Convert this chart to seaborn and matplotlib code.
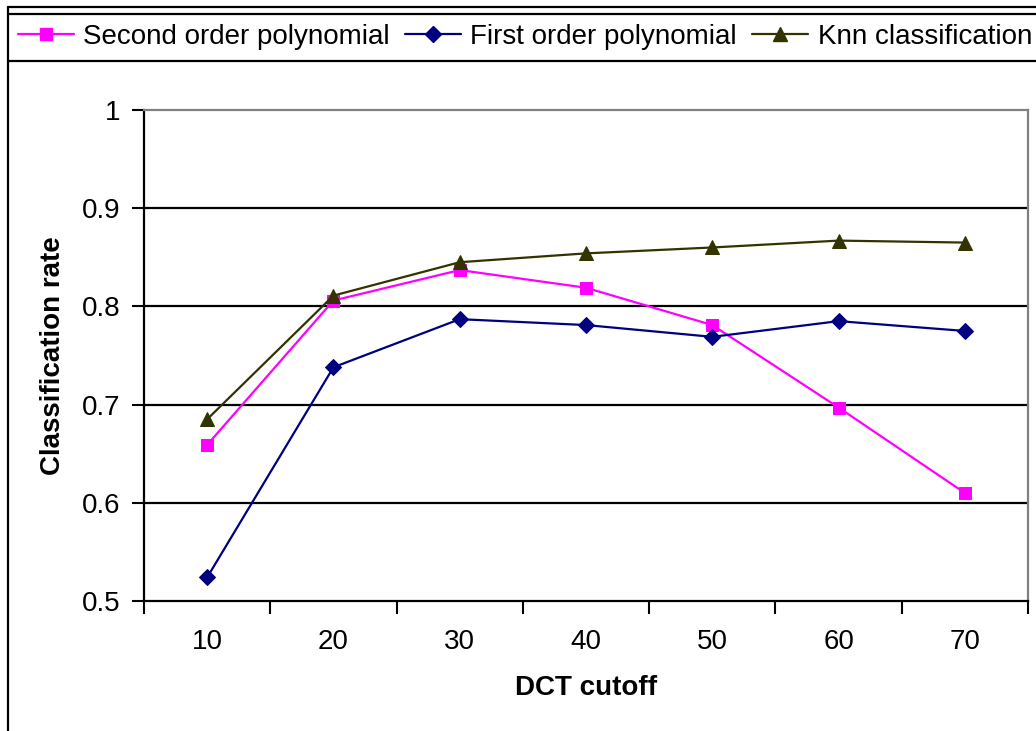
import numpy as np
import pandas as pd
import matplotlib
matplotlib.use("Agg")
import matplotlib.pyplot as plt
from matplotlib.lines import Line2D
import seaborn as sns

cutoffs = ["10", "20", "30", "40", "50", "60", "70"]
second_order = [0.659, 0.806, 0.837, 0.819, 0.781, 0.697, 0.610]
first_order = [0.524, 0.738, 0.787, 0.781, 0.769, 0.785, 0.775]
knn = [0.685, 0.811, 0.845, 0.854, 0.860, 0.867, 0.865]
series_names = ["Second order polynomial", "First order polynomial", "Knn classification"]
y_ticks = [0.5, 0.6, 0.7, 0.8, 0.9, 1.0]
y_tick_labels = ["0.5", "0.6", "0.7", "0.8", "0.9", "1"]

colors = ["#FF00FF", "#000080", "#333300"]
markers = ["s", "D", "^"]
msizes = [9, 7.8, 10.5]

sns.set_theme(style="white")
plt.rcParams["font.family"] = ["Liberation Sans", "DejaVu Sans"]
plt.rcParams["text.color"] = "black"
plt.rcParams["axes.labelcolor"] = "black"
plt.rcParams["xtick.color"] = "black"
plt.rcParams["ytick.color"] = "black"

df = pd.DataFrame({
    "pos": np.tile(np.arange(len(cutoffs)), 3),
    "rate": second_order + first_order + knn,
    "series": np.repeat(series_names, len(cutoffs)),
})

fig = plt.figure(figsize=(10.36, 7.31), dpi=100)
ax = fig.add_axes([144 / 1036, 1 - 601 / 731, (1028 - 144) / 1036, (601 - 110) / 731])

for name, c, m, ms in zip(series_names, colors, markers, msizes):
    sub = df[df["series"] == name]
    sns.lineplot(data=sub, x="pos", y="rate", ax=ax, color=c, marker=m,
                 markersize=ms, markeredgecolor=c, linewidth=1.6, sort=False,
                 legend=False, zorder=3)

ax.set_xlim(-0.5, len(cutoffs) - 0.5)
ax.set_ylim(0.5, 1.0)
ax.set_yticks(y_ticks)
ax.set_yticklabels(y_tick_labels, fontsize=20, color="black")
ax.set_xticks(np.arange(len(cutoffs)))
ax.set_xticklabels(cutoffs, fontsize=20, color="black")
ax.set_xticks(np.arange(len(cutoffs) + 1) - 0.5, minor=True)
ax.tick_params(axis="x", which="major", length=0, pad=20, labelcolor="black")
ax.tick_params(axis="x", which="minor", length=9, width=1.5, direction="out",
               bottom=True, color="black")
ax.tick_params(axis="y", which="major", length=9, width=1.5, direction="out",
               left=True, pad=8, color="black", labelcolor="black")

for yv in y_ticks[1:-1]:
    ax.axhline(yv, color="black", linewidth=1.6, zorder=1)

for s in ["left", "bottom"]:
    ax.spines[s].set_color("black")
    ax.spines[s].set_linewidth(1.6)
for s in ["top", "right"]:
    ax.spines[s].set_color("#808080")
    ax.spines[s].set_linewidth(1.6)
    ax.spines[s].set_visible(True)

ax.set_xlabel("DCT cutoff", fontsize=20, fontweight="bold", color="black")
ax.set_ylabel("Classification rate", fontsize=20, fontweight="bold", color="black")
ax.xaxis.label.set_va("center")
ax.xaxis.set_label_coords(0.5, -(688 - 601) / 491)
ax.yaxis.label.set_va("center")
ax.yaxis.set_label_coords(-(144 - 53.5) / 884, 0.5)

handles = [Line2D([], [], color=c, marker=m, markersize=ms, markeredgecolor=c,
                  linewidth=1.6) for c, m, ms in zip(colors, markers, msizes)]
leg = fig.legend(handles, series_names, loc="center left",
                 bbox_to_anchor=(18 / 1036, 1 - 37 / 731), ncol=3, frameon=False,
                 fontsize=20, handlelength=2.0, handletextpad=0.35,
                 columnspacing=0.55, borderpad=0, borderaxespad=0)
for t in leg.get_texts():
    t.set_color("black")

# chart frame lines (outer border and legend box)
def hline(y, x0=8, x1=1036):
    fig.add_artist(Line2D([x0 / 1036, x1 / 1036], [1 - y / 731, 1 - y / 731],
                          transform=fig.transFigure, color="black", linewidth=1.6))

def vline(x, y0=7, y1=731):
    fig.add_artist(Line2D([x / 1036, x / 1036], [1 - y0 / 731, 1 - y1 / 731],
                          transform=fig.transFigure, color="black", linewidth=1.6))

hline(7)
hline(13.5)
hline(61)
vline(8)

fig.savefig("out.png", dpi=100, facecolor="white")
